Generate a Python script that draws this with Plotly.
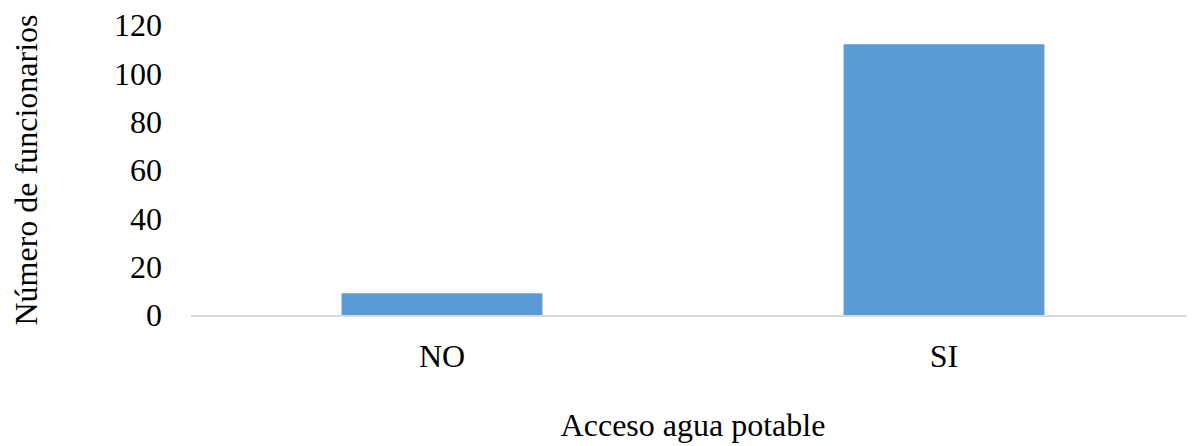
import plotly.graph_objects as go

# Data
categories = ["NO", "SI"]
counts = [9, 112]
y_ticks = [0, 20, 40, 60, 80, 100, 120]

FONT = "Liberation Serif, Times New Roman, serif"

fig = go.Figure()

fig.add_trace(go.Bar(
    x=categories,
    y=counts,
    marker=dict(color="#5b9bd5", line=dict(width=0)),
    width=0.4,
))

# page body adds an 8px margin, so the figure is sized 8px smaller
fig.update_layout(
    width=1187,
    height=438,
    margin=dict(l=183, r=0, t=17, b=131),
    plot_bgcolor="white",
    paper_bgcolor="white",
    showlegend=False,
    font=dict(family=FONT, size=32, color="black"),
)

fig.update_xaxes(
    automargin=False,
    showline=True,
    linecolor="#d9d9d9",
    linewidth=2,
    showgrid=False,
    ticks="",
    ticklabelstandoff=12,
    title=dict(text="Acceso agua potable", standoff=40,
               font=dict(family=FONT, size=32)),
)

fig.update_yaxes(
    automargin=False,
    range=[0, 120],
    tickvals=y_ticks,
    ticklabeloverflow="allow",
    showgrid=False,
    showline=False,
    zeroline=False,
    ticks="",
    ticklabelstandoff=28,
    title=dict(text="Número de funcionarios", standoff=78,
               font=dict(family=FONT, size=32)),
)

fig.write_html("out.html")
